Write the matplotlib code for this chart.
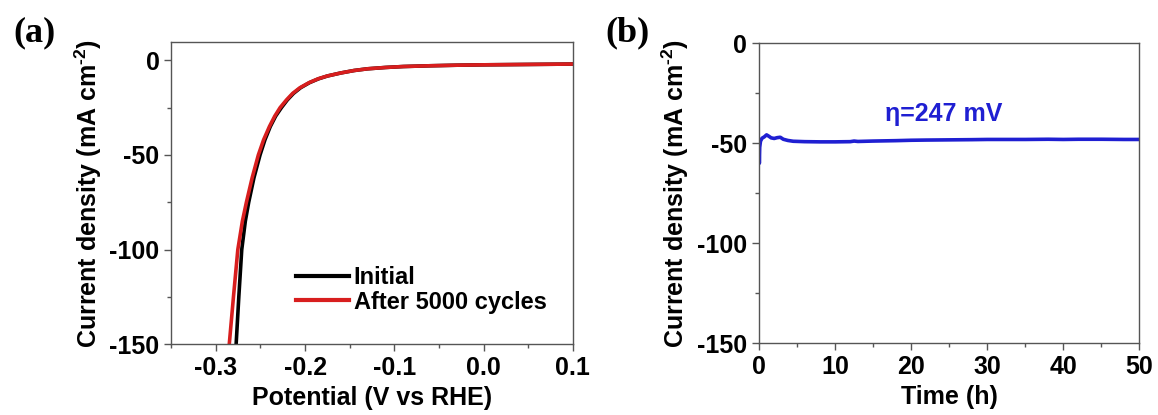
import matplotlib
matplotlib.use('Agg')
import matplotlib.pyplot as plt
from matplotlib.ticker import MultipleLocator

plt.rcParams['font.family'] = ['Liberation Sans', 'DejaVu Sans']
plt.rcParams['font.weight'] = 'bold'
plt.rcParams['axes.unicode_minus'] = False
plt.rcParams['mathtext.fontset'] = 'custom'
plt.rcParams['mathtext.rm'] = 'Liberation Sans:bold'
plt.rcParams['mathtext.default'] = 'rm'

# (a) polarisation curves, potential (V vs RHE) vs current density
pot_initial = [-0.2773, -0.2743, -0.2710, -0.2670, -0.2632, -0.2573, -0.2505, -0.2450,
               -0.2390, -0.2330, -0.2265, -0.2200, -0.2130, -0.2050, -0.1950, -0.1850,
               -0.1750, -0.1600, -0.1450, -0.1300, -0.1100, -0.0900, -0.0600, -0.0300,
               0.0000, 0.0500, 0.1000]
j_initial = [-150, -125, -100, -85, -75, -62, -50, -42, -35, -29.5, -25, -21, -17.5,
             -14.5, -11.8, -9.8, -8.3, -6.7, -5.4, -4.5, -3.8, -3.3, -2.9, -2.6, -2.4,
             -2.2, -2.0]

pot_after = [-0.2850, -0.2803, -0.2754, -0.2703, -0.2658, -0.2593, -0.2524, -0.2465,
             -0.2400, -0.2340, -0.2280, -0.2210, -0.2140, -0.2058, -0.1955, -0.1855,
             -0.1752, -0.1600, -0.1450, -0.1300, -0.1100, -0.0900, -0.0600, -0.0300,
             0.0000, 0.0500, 0.1000]
j_after = [-150, -125, -100, -85, -75, -62, -50, -42, -35, -29.5, -25, -21, -17.5,
           -14.5, -11.8, -9.8, -8.3, -6.7, -5.4, -4.5, -3.8, -3.3, -2.9, -2.6, -2.4,
           -2.2, -2.0]

# (b) chronoamperometry at eta = 247 mV
time_h = [0, 0.05, 0.1, 0.2, 0.4, 0.7, 1.0, 1.3, 1.6, 2.0, 2.4, 2.8, 3.2, 3.8, 4.5,
          6, 8, 10, 12, 12.5, 13, 15, 18, 20, 22, 25, 28, 30, 32, 35, 38, 40, 42,
          45, 48, 50]
j_time = [-49, -60, -52, -49, -47.5, -46.8, -45.8, -46.5, -47.3, -47.6, -47.2, -47.0,
          -48.0, -48.6, -49.0, -49.2, -49.3, -49.3, -49.2, -48.9, -49.1, -48.9, -48.7,
          -48.5, -48.4, -48.3, -48.2, -48.1, -48.1, -48.1, -48.0, -48.1, -48.0, -48.0,
          -48.1, -48.1]

fs = 18
ylab = r'Current density (mA cm$^{\text{-2}}$)'

fig = plt.figure(figsize=(11.58, 4.15), dpi=100)
ax1 = fig.add_axes([0.1479, 0.1704, 0.3467, 0.7277])
ax2 = fig.add_axes([0.6554, 0.1728, 0.3286, 0.7230])


def style(ax):
    ax.tick_params(which='major', direction='out', length=5, width=1, labelsize=fs,
                   top=False, right=False, color='#555555')
    ax.tick_params(which='minor', direction='out', length=3, width=1,
                   top=False, right=False, color='#555555')
    for sp in ax.spines.values():
        sp.set_color('#555555')
        sp.set_linewidth(1)
    for lab in ax.get_xticklabels() + ax.get_yticklabels():
        lab.set_fontweight('bold')


ax1.plot(pot_initial, j_initial, color='black', lw=2.6, label='Initial')
ax1.plot(pot_after, j_after, color='#d81e1e', lw=2.6, label='After 5000 cycles')
ax1.set_xlim(-0.35, 0.1)
ax1.set_ylim(-150, 9.5)
ax1.set_xticks([-0.3, -0.2, -0.1, 0.0, 0.1])
ax1.set_yticks([0, -50, -100, -150])
ax1.xaxis.set_minor_locator(MultipleLocator(0.05))
ax1.yaxis.set_minor_locator(MultipleLocator(25))
ax1.set_xlabel('Potential (V vs RHE)', fontsize=fs, fontweight='bold', labelpad=4)
ax1.set_ylabel(ylab, fontsize=fs, fontweight='bold', labelpad=4)
style(ax1)
leg = ax1.legend(loc='upper left', bbox_to_anchor=(0.31, 0.258), frameon=False,
                 handlelength=2.25, handletextpad=0.2, labelspacing=0.05, borderpad=0,
                 borderaxespad=0, prop={'weight': 'bold', 'size': 17})
for line in leg.get_lines():
    line.set_linewidth(3)

ax2.plot(time_h, j_time, color='#1f1fd2', lw=2.6)
ax2.set_xlim(0, 50)
ax2.set_ylim(-150, 0)
ax2.set_xticks([0, 10, 20, 30, 40, 50])
ax2.set_yticks([0, -50, -100, -150])
ax2.xaxis.set_minor_locator(MultipleLocator(5))
ax2.yaxis.set_minor_locator(MultipleLocator(25))
ax2.set_xlabel('Time (h)', fontsize=fs, fontweight='bold', labelpad=4)
ax2.set_ylabel(ylab, fontsize=fs, fontweight='bold', labelpad=4)
style(ax2)
ax2.text(24.3, -35.5, 'η=247 mV', color='#1f1fd2', fontsize=fs, fontweight='bold',
         ha='center', va='center', family=['Liberation Sans', 'DejaVu Sans'])

fig.text(0.030, 0.92, '(a)', fontsize=26, fontweight='bold', family='Liberation Serif',
         ha='center', va='center')
fig.text(0.542, 0.92, '(b)', fontsize=26, fontweight='bold', family='Liberation Serif',
         ha='center', va='center')

fig.savefig('out.png', dpi=100)
